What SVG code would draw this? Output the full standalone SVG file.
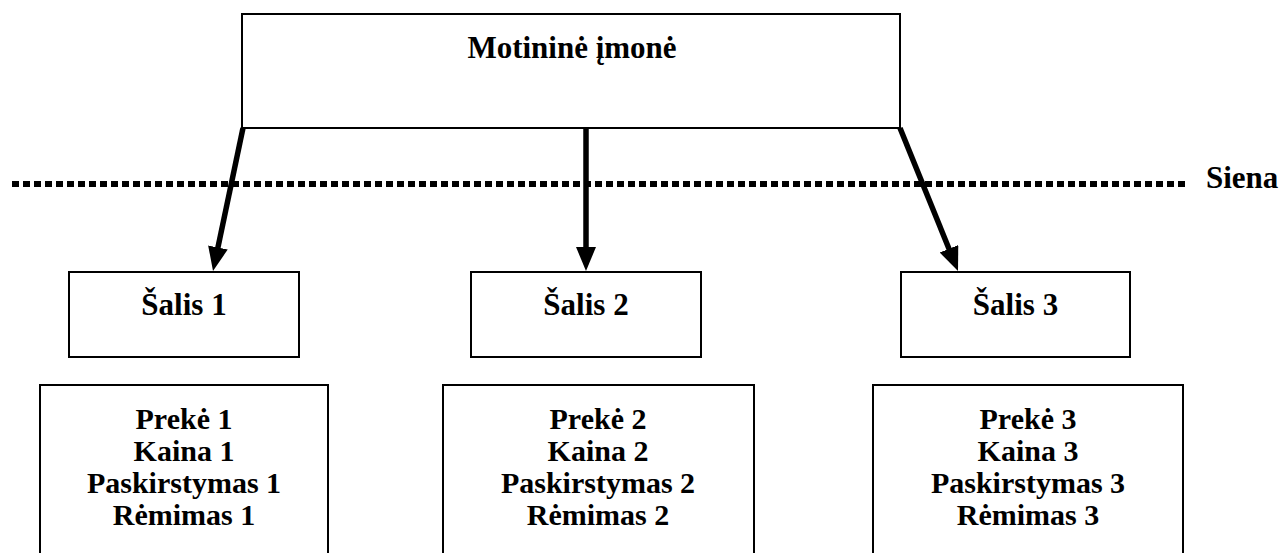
<svg xmlns="http://www.w3.org/2000/svg" width="1287" height="553" viewBox="0 0 1287 553">
  <style>
    .box { fill: #ffffff; stroke: #000000; stroke-width: 2; }
    .lbl { font-family: "Liberation Serif", "Times New Roman", serif; font-weight: bold; font-size: 31px; fill: #000000; }
    .item { font-size: 30px; }
    .mid { text-anchor: middle; }
    .arrow { stroke: #000000; stroke-width: 5.5; fill: none; marker-end: url(#head); }
    .wall { stroke: #000000; stroke-width: 6; stroke-dasharray: 7 4; fill: none; }
  </style>
  <defs>
    <marker id="head" markerUnits="userSpaceOnUse" markerWidth="26" markerHeight="22" refX="8" refY="10" orient="auto">
      <path d="M0,0 L24,10 L0,20 z" fill="#000000"/>
    </marker>
  </defs>
  <rect width="1287" height="553" fill="#ffffff"/>

  <!-- border line -->
  <g id="wall">
    <line class="wall" x1="12" y1="184" x2="1186" y2="184"/>
    <text class="lbl" x="1206" y="188">Siena</text>
  </g>

  <!-- parent company -->
  <g id="parent">
    <rect class="box" x="242" y="14" width="658" height="114"/>
    <text class="lbl mid" x="572" y="58">Motininė įmonė</text>
  </g>

  <!-- countries -->
  <g id="country1">
    <rect class="box" x="69" y="272" width="230" height="85"/>
    <text class="lbl mid" x="184" y="315">Šalis 1</text>
  </g>
  <g id="country2">
    <rect class="box" x="471" y="272" width="230" height="85"/>
    <text class="lbl mid" x="586" y="315">Šalis 2</text>
  </g>
  <g id="country3">
    <rect class="box" x="901" y="272" width="229" height="85"/>
    <text class="lbl mid" x="1015.5" y="315">Šalis 3</text>
  </g>

  <!-- marketing mix per country -->
  <g id="mix1">
    <rect class="box" x="40" y="385" width="288" height="200"/>
    <text class="lbl item mid" x="184" y="429">Prekė 1</text>
    <text class="lbl item mid" x="184" y="461">Kaina 1</text>
    <text class="lbl item mid" x="184" y="493">Paskirstymas 1</text>
    <text class="lbl item mid" x="184" y="525">Rėmimas 1</text>
  </g>
  <g id="mix2">
    <rect class="box" x="443" y="385" width="311" height="200"/>
    <text class="lbl item mid" x="598" y="429">Prekė 2</text>
    <text class="lbl item mid" x="598" y="461">Kaina 2</text>
    <text class="lbl item mid" x="598" y="493">Paskirstymas 2</text>
    <text class="lbl item mid" x="598" y="525">Rėmimas 2</text>
  </g>
  <g id="mix3">
    <rect class="box" x="873" y="385" width="310" height="200"/>
    <text class="lbl item mid" x="1028" y="429">Prekė 3</text>
    <text class="lbl item mid" x="1028" y="461">Kaina 3</text>
    <text class="lbl item mid" x="1028" y="493">Paskirstymas 3</text>
    <text class="lbl item mid" x="1028" y="525">Rėmimas 3</text>
  </g>

  <!-- connectors -->
  <g id="connectors">
    <line class="arrow" x1="243" y1="128" x2="216.3" y2="255.3"/>
    <line class="arrow" x1="586" y1="128" x2="586" y2="255"/>
    <line class="arrow" x1="900" y1="128" x2="952" y2="256.2"/>
  </g>
</svg>
